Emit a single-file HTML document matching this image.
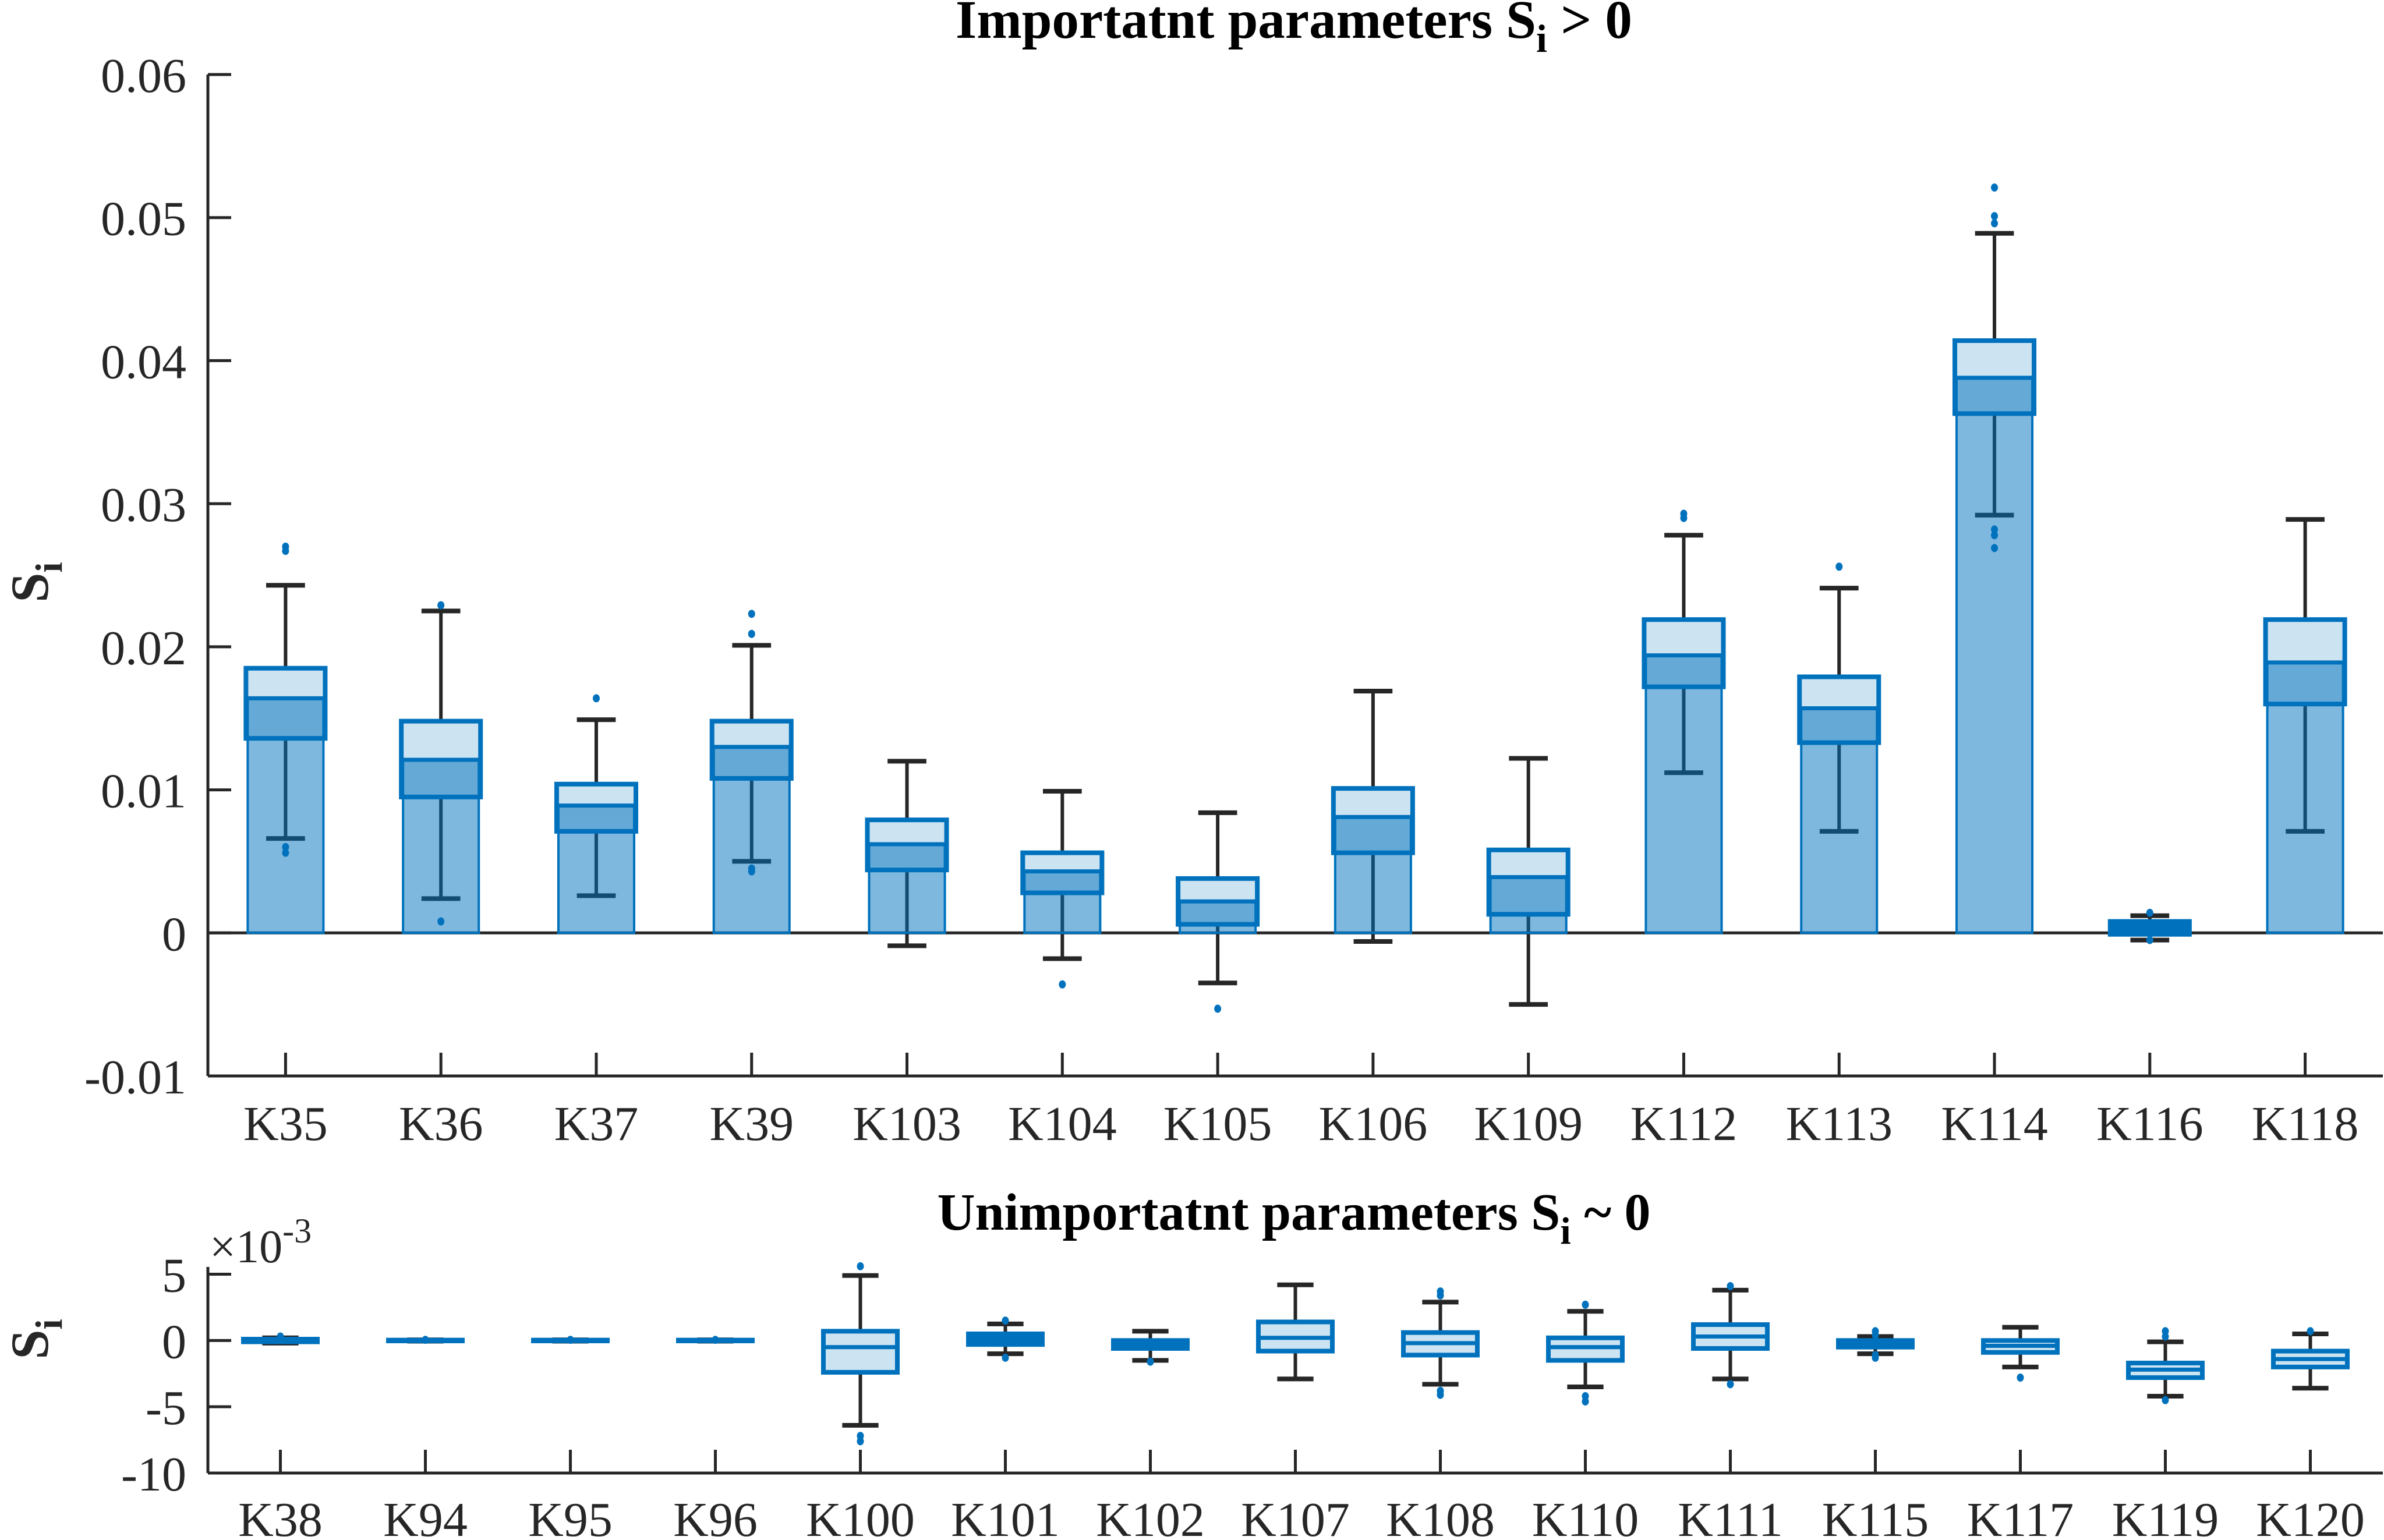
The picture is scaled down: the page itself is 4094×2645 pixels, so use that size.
<!DOCTYPE html>
<html><head><meta charset="utf-8"><style>
html,body{margin:0;padding:0;background:#fff;}
svg{display:block;font-family:"Liberation Serif","Times New Roman",serif;}
text{font-family:"Liberation Serif","Times New Roman",serif;}
</style></head><body>
<svg id="chart" width="4094" height="2645" viewBox="0 0 4094 2645" xmlns="http://www.w3.org/2000/svg">
<g id="top"></g>
<g id="bot"></g>
<text x="2222" y="65" text-anchor="middle" font-weight="bold" font-size="93" fill="#000">Importatnt parameters S<tspan dy="24" font-size="68">i</tspan><tspan dy="-24"> &gt; 0</tspan></text>
<text x="2222" y="2112" text-anchor="middle" font-weight="bold" font-size="90" fill="#000">Unimportatnt parameters S<tspan dy="24" font-size="66">i</tspan><tspan dy="-24"> ~ 0</tspan></text>
<text transform="translate(82,1000) rotate(-90)" text-anchor="middle" font-weight="bold" font-size="92" fill="#262626">S<tspan dy="24" font-size="66">i</tspan></text>
<text transform="translate(82,2300) rotate(-90)" text-anchor="middle" font-weight="bold" font-size="92" fill="#262626">S<tspan dy="24" font-size="66">i</tspan></text>
<text x="360" y="2168" font-size="80" fill="#262626">×10<tspan dy="-34" font-size="60">-3</tspan></text>
</svg>
<script>
// ---- top chart data ----
const topCats = ["K35","K36","K37","K39","K103","K104","K105","K106","K109","K112","K113","K114","K116","K118"];
const topHi   = [0.0243,0.0225,0.0149,0.0201,0.0120,0.0099,0.0084,0.0169,0.0122,0.0278,0.0241,0.0489,0.0012,0.0289];
const topQ3   = [0.0185,0.0148,0.0104,0.0148,0.0079,0.0056,0.0038,0.0101,0.0058,0.0219,0.0179,0.0414,0.0008,0.0219];
const topMed  = [0.0164,0.0121,0.0089,0.0130,0.0062,0.0043,0.0022,0.0081,0.0039,0.0194,0.0157,0.0388,0.0004,0.0189];
const topQ1   = [0.0136,0.0095,0.0071,0.0108,0.0044,0.0028,0.0006,0.0056,0.0013,0.0172,0.0133,0.0363,-0.0001,0.0160];
const topLo   = [0.0066,0.0024,0.0026,0.0050,-0.0009,-0.0018,-0.0035,-0.0006,-0.0050,0.0112,0.0071,0.0292,-0.0005,0.0071];
const topOut  = [[0.0267,0.0270,0.0060,0.0056],[0.0229,0.0008],[0.0164],[0.0223,0.0209,0.0045,0.0043],[],[-0.0036],[-0.0053],[],[],[0.0290,0.0293],[0.0256],[0.0521,0.0501,0.0496,0.0282,0.0278,0.0269],[0.0014,-0.0005],[]];
const topTicks = [0.06,0.05,0.04,0.03,0.02,0.01,0,-0.01];
const topTickLabels = ["0.06","0.05","0.04","0.03","0.02","0.01","0","-0.01"];
// ---- bottom chart data (x1e-3) ----
const botCats = ["K38","K94","K95","K96","K100","K101","K102","K107","K108","K110","K111","K115","K117","K119","K120"];
const botHi   = [0.2,0.05,0.05,0.05,4.9,1.25,0.7,4.2,2.9,2.2,3.8,0.3,1.0,-0.1,0.5];
const botQ3   = [0.1,0.03,0.03,0.03,0.7,0.5,0.0,1.4,0.6,0.2,1.2,0.0,0.0,-1.7,-0.8];
const botMed  = [0.0,0.0,0.0,0.0,-0.5,0.2,-0.3,0.2,-0.2,-0.5,0.3,-0.3,-0.4,-2.2,-1.4];
const botQ1   = [-0.1,-0.03,-0.03,-0.03,-2.4,-0.3,-0.6,-0.8,-1.1,-1.5,-0.6,-0.5,-0.9,-2.8,-2.0];
const botLo   = [-0.2,-0.05,-0.05,-0.05,-6.4,-1.0,-1.5,-2.9,-3.3,-3.5,-2.9,-1.0,-2.0,-4.2,-3.6];
const botOut  = [[0.3],[0.05],[0.05],[0.05],[5.6,-7.2,-7.6],[1.5,-1.3],[-1.6],[],[3.7,3.4,-3.8,-4.1],[2.7,-4.2,-4.6],[4.1,-3.3],[0.7,0.4,-1.1,-1.3],[-2.8],[0.7,0.3,-4.5],[0.7]];
const botTicks = [5,0,-5,-10];
const botTickLabels = ["5","0","-5","-10"];

const NS="http://www.w3.org/2000/svg";
function mk(parent,tag,attrs){const e=document.createElementNS(NS,tag);for(const k in attrs)e.setAttribute(k,attrs[k]);parent.appendChild(e);return e;}

function drawPanel(g,cfg){
  const {cats,hi,q3,med,q1,lo,out,ticks,tickLabels,x0,x1,yMin,yMax,yTop,yBot,bars,labelY,prefix,solidMax}=cfg;
  const n=cats.length, step=(x1-x0)/n;
  const X=i=>x0+(i+0.5)*step;
  const Y=v=>yBot-(v-yMin)/(yMax-yMin)*(yBot-yTop);
  let a=mk(g,'line',{x1:x0,y1:Y(yMax),x2:x0,y2:yBot,stroke:'#262626','stroke-width':5});
  
  
  a=mk(g,'line',{x1:x0,y1:yBot,x2:x1,y2:yBot,stroke:'#262626','stroke-width':5});
  
  
  ticks.forEach((t,k)=>{
    const y=Y(t);
    const tl=mk(g,'line',{x1:x0,y1:y,x2:x0+40,y2:y,stroke:'#262626','stroke-width':5});
    
    
    const tx=mk(g,'text',{x:320,y:y+30,'text-anchor':'end','font-size':84,fill:'#262626'});
    tx.textContent=tickLabels[k];
    
    
  });
  if(bars){
    const z=mk(g,'line',{x1:x0,y1:Y(0),x2:x1,y2:Y(0),stroke:'#262626','stroke-width':5});
    
    
  }
  const bw=step*0.51, cw=step*0.25;
  cats.forEach((c,i)=>{
    const cx=X(i);
    const tk=mk(g,'line',{x1:cx,y1:yBot,x2:cx,y2:yBot-40,stroke:'#262626','stroke-width':5});
    
    
    const lb=mk(g,'text',{x:cx,y:labelY,'text-anchor':'middle','font-size':84,fill:'#262626'});
    lb.textContent=c;
    
    
    const grp=mk(g,'g',{});
    
    
    mk(grp,'line',{x1:cx,y1:Y(hi[i]),x2:cx,y2:Y(q3[i]),stroke:'#262626','stroke-width':6});
    mk(grp,'line',{x1:cx,y1:Y(q1[i]),x2:cx,y2:Y(lo[i]),stroke:'#262626','stroke-width':6});
    mk(grp,'line',{x1:cx-cw/2,y1:Y(hi[i]),x2:cx+cw/2,y2:Y(hi[i]),stroke:'#262626','stroke-width':8});
    mk(grp,'line',{x1:cx-cw/2,y1:Y(lo[i]),x2:cx+cw/2,y2:Y(lo[i]),stroke:'#262626','stroke-width':8});
    if(bars){
      const top=Math.min(Y(med[i]),Y(0)), h=Math.abs(Y(med[i])-Y(0));
      const b=mk(grp,'rect',{x:cx-bw/2+3,y:top,width:bw-6,height:h,fill:'#0072bd','fill-opacity':0.5,stroke:'#0072bd','stroke-width':4});
      
      
    }
    const bh=Y(q1[i])-Y(q3[i]);
    mk(grp,'rect',{x:cx-bw/2,y:Y(q3[i]),width:bw,height:Math.max(bh,0.5),fill:'#0072bd','fill-opacity':bh<solidMax?1:0.2,stroke:'#0072bd','stroke-width':8});
    mk(grp,'line',{x1:cx-bw/2,y1:Y(med[i]),x2:cx+bw/2,y2:Y(med[i]),stroke:'#0072bd','stroke-width':7});
    out[i].forEach(v=>{
      const d=mk(grp,'ellipse',{cx:cx,cy:Y(v),rx:6,ry:7,fill:'#0072bd'});
      
      
    });
  });
}
drawPanel(document.getElementById('top'),{cats:topCats,hi:topHi,q3:topQ3,med:topMed,q1:topQ1,lo:topLo,out:topOut,ticks:topTicks,tickLabels:topTickLabels,
  x0:357,x1:4092,yMin:-0.01,yMax:0.06,yTop:128,yBot:1848,bars:true,labelY:1958,prefix:'top',solidMax:25});
drawPanel(document.getElementById('bot'),{cats:botCats,hi:botHi,q3:botQ3,med:botMed,q1:botQ1,lo:botLo,out:botOut,ticks:botTicks,tickLabels:botTickLabels,
  x0:357,x1:4092,yMin:-10,yMax:5.55,yTop:2176,yBot:2530,bars:false,labelY:2638,prefix:'bottom',solidMax:19});
</script>
</body></html>
